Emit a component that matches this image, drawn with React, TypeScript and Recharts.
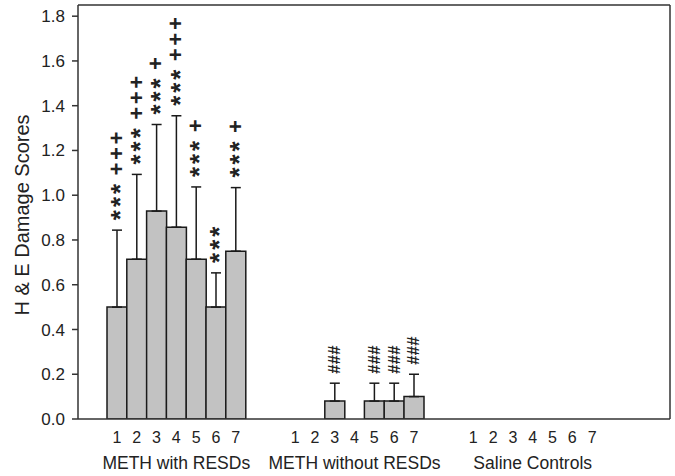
import React from 'react';
import { ComposedChart, Bar, Line, XAxis, YAxis, ErrorBar } from 'recharts';

const groups = ['METH with RESDs', 'METH without RESDs', 'Saline Controls'];
const doses = ['1', '2', '3', '4', '5', '6', '7'];

const withResdsMeans = [0.5, 0.714, 0.929, 0.857, 0.714, 0.5, 0.75];
const withResdsErrors = [0.344, 0.379, 0.387, 0.498, 0.323, 0.153, 0.284];
const withoutResdsMeans = [0, 0, 0.08, 0, 0.08, 0.08, 0.1];
const withoutResdsErrors = [0, 0, 0.08, 0, 0.08, 0.08, 0.1];
const salineMeans = [0, 0, 0, 0, 0, 0, 0];
const salineErrors = [0, 0, 0, 0, 0, 0, 0];

const withResdsStars = ['***', '***', '***', '***', '***', '***', '***'];
const withResdsPlus = ['+++', '+++', '+', '+++', '+', '', '+'];
const withoutResdsHash = ['', '', '###', '', '###', '###', '###'];
const noMarks = ['', '', '', '', '', '', ''];

const yTicks = [0, 0.2, 0.4, 0.6, 0.8, 1.0, 1.2, 1.4, 1.6, 1.8];

const groupMeans = [withResdsMeans, withoutResdsMeans, salineMeans];
const groupErrors = [withResdsErrors, withoutResdsErrors, salineErrors];
const groupStars = [withResdsStars, noMarks, noMarks];
const groupPlus = [withResdsPlus, noMarks, noMarks];
const groupHash = [noMarks, withoutResdsHash, noMarks];

type Row = {
  key: string;
  dose: string;
  group: string;
  value: number | null;
  err: number[] | null;
  cap: number | null;
  stars: string;
  plus: string;
  hash: string;
};

const data: Row[] = [];
groups.forEach((g, gi) => {
  doses.forEach((d, di) => {
    const v = groupMeans[gi][di];
    const e = groupErrors[gi][di];
    const stars = groupStars[gi][di];
    const plus = groupPlus[gi][di];
    const hash = groupHash[gi][di];
    const hasMark = stars || plus || hash;
    data.push({
      key: `g${gi}d${di}`,
      dose: d,
      group: g,
      value: v,
      err: e > 0 ? [0, e] : null,
      cap: hasMark ? v + e : null,
      stars,
      plus,
      hash,
    });
  });
  if (gi < groups.length - 1) {
    for (let s = 0; s < 2; s++) {
      data.push({ key: `sp${gi}${s}`, dose: '', group: '', value: null, err: null, cap: null, stars: '', plus: '', hash: '' });
    }
  }
});

const rowByKey: Record<string, Row> = {};
data.forEach((r) => { rowByKey[r.key] = r; });

const FONT = '"Liberation Sans", Arial, sans-serif';
const INK = '#222';
const AXIS = { stroke: '#333', strokeWidth: 1.5 };
const X_PAD = { left: 29, right: 68 };
const Y_DOMAIN: [number, number] = [0, 1.85];

const XTick = (props: any) => {
  const { x, y, payload } = props;
  const row = rowByKey[payload.value];
  if (!row) return <g />;
  return (
    <g>
      <text x={x} y={y + 15.5} textAnchor="middle" fontFamily={FONT} fontSize={16} fill={INK}>{row.dose}</text>
      {row.dose === '4' && (
        <text x={x} y={y + 42} textAnchor="middle" fontFamily={FONT} fontSize={17.5} fill={INK}>{row.group}</text>
      )}
    </g>
  );
};

// Stacked mark string, written bottom-to-top as rotated text.
const VText = ({ x, y, text, size, spacing }: { x: number; y: number; text: string; size: number; spacing: number }) => (
  <text
    x={x}
    y={y}
    transform={`rotate(-90 ${x} ${y})`}
    textAnchor="start"
    fontFamily={FONT}
    fontWeight="bold"
    fontSize={size}
    letterSpacing={spacing}
    fill={INK}
  >
    {text}
  </text>
);

const Marks = (props: any) => {
  const { cx, cy, payload, index } = props;
  if (cx == null || cy == null || !payload || payload.cap == null) return <g key={`m${index}`} />;
  const nStars = payload.stars.length;
  const topStar = nStars ? cy - 15 - 13 * (nStars - 1) : cy;
  return (
    <g key={`m${index}`}>
      {payload.stars && (
        <VText x={cx + 12.3} y={cy - 10} text={payload.stars} size={26} spacing={2.9} />
      )}
      {payload.plus && (
        <VText x={cx + 7} y={topStar - 13.6} text={payload.plus} size={22} spacing={2.7} />
      )}
      {payload.hash && (
        <VText x={cx + 5.6} y={cy - 9.5} text={payload.hash} size={16.5} spacing={0.3} />
      )}
    </g>
  );
};

const YTitle = (props: any) => {
  const vb = props.viewBox || {};
  const cy = (vb.y ?? 5) + (vb.height ?? 414) / 2 + 3;
  const cx = 22;
  return (
    <text x={cx} y={cy} transform={`rotate(-90 ${cx} ${cy})`} textAnchor="middle" dominantBaseline="central" fontFamily={FONT} fontSize={20} fill={INK}>
      H &amp; E Damage Scores
    </text>
  );
};

export default function App() {
  return (
    <div style={{ position: 'absolute', left: 0, top: 0, background: '#fff' }}>
      <ComposedChart width={675} height={476} data={data} margin={{ top: 4, right: 4, bottom: 0, left: 0 }} barCategoryGap={0} barGap={0}>
        <XAxis
          xAxisId="main"
          dataKey="key"
          type="category"
          interval={0}
          height={57}
          padding={X_PAD}
          tickLine={false}
          tickSize={6}
          tickMargin={2}
          axisLine={AXIS}
          tick={<XTick />}
        />
        <XAxis
          xAxisId="top"
          orientation="top"
          dataKey="key"
          type="category"
          interval={0}
          padding={X_PAD}
          height={1}
          tick={false}
          tickLine={false}
          axisLine={AXIS}
        />
        <YAxis
          yAxisId="left"
          domain={Y_DOMAIN}
          ticks={yTicks}
          type="number"
          allowDataOverflow
          width={78}
          tickSize={6}
          tickMargin={7}
          tickFormatter={(v: number) => v.toFixed(1)}
          tick={{ fontFamily: FONT, fontSize: 17, fill: INK }}
          tickLine={AXIS}
          axisLine={AXIS}
          label={<YTitle />}
        />
        <YAxis
          yAxisId="right"
          orientation="right"
          domain={Y_DOMAIN}
          type="number"
          allowDataOverflow
          width={1}
          tick={false}
          tickLine={false}
          axisLine={AXIS}
        />
        <Bar xAxisId="main" yAxisId="left" dataKey="value" fill="#c2c2c2" stroke="#1a1a1a" strokeWidth={1.5} isAnimationActive={false}>
          <ErrorBar dataKey="err" width={5} stroke="#1a1a1a" strokeWidth={1.5} direction="y" isAnimationActive={false} />
        </Bar>
        <Line xAxisId="top" yAxisId="right" dataKey="cap" stroke="none" dot={Marks} activeDot={false} isAnimationActive={false} legendType="none" />
      </ComposedChart>
    </div>
  );
}
